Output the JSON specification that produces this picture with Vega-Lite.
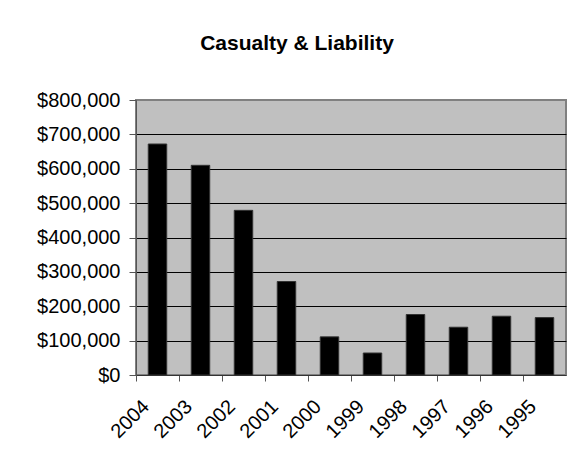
{
  "$schema": "https://vega.github.io/schema/vega-lite/v6.json",
  "width": 430,
  "height": 275,
  "autosize": {"type": "none"},
  "padding": {"left": 136, "top": 100, "right": 17, "bottom": 92},
  "background": "white",
  "title": {
    "text": "Casualty & Liability",
    "font": "Liberation Sans",
    "fontSize": 21,
    "fontWeight": "bold",
    "color": "black",
    "anchor": "middle",
    "dx": -54,
    "offset": 19,
    "baseline": "alphabetic"
  },
  "data": {
    "values": [
      {"year": "2004", "amount": 672000},
      {"year": "2003", "amount": 610000},
      {"year": "2002", "amount": 479000},
      {"year": "2001", "amount": 272000},
      {"year": "2000", "amount": 111000},
      {"year": "1999", "amount": 64000},
      {"year": "1998", "amount": 176000},
      {"year": "1997", "amount": 139000},
      {"year": "1996", "amount": 171000},
      {"year": "1995", "amount": 167000}
    ]
  },
  "mark": {"type": "bar", "color": "black", "stroke": "#333333", "strokeWidth": 1},
  "encoding": {
    "x": {
      "field": "year",
      "type": "ordinal",
      "sort": null,
      "scale": {"paddingInner": 0.57, "paddingOuter": 0.285},
      "axis": {
        "title": null,
        "labelAngle": -45,
        "labelFontSize": 20,
        "labelFont": "Liberation Sans",
        "labelColor": "black",
        "tickOffset": -21.5,
        "tickSize": 6,
        "tickColor": "#555555",
        "domainColor": "#333333",
        "labelPadding": 15,
        "labelOffset": 2.5,
        "grid": false
      }
    },
    "y": {
      "field": "amount",
      "type": "quantitative",
      "scale": {"domain": [0, 800000], "nice": false},
      "axis": {
        "title": null,
        "values": [0, 100000, 200000, 300000, 400000, 500000, 600000, 700000, 800000],
        "format": "$,.0f",
        "labelFontSize": 20,
        "labelFont": "Liberation Sans",
        "labelColor": "black",
        "tickSize": 7,
        "tickColor": "#555555",
        "labelPadding": 9,
        "domainColor": "#555555",
        "gridColor": {"condition": {"test": "datum.value === 800000 || datum.value === 0", "value": "#808080"}, "value": "black"},
        "gridWidth": 1
      }
    }
  },
  "config": {
    "view": {"fill": "#C0C0C0", "stroke": "#808080", "strokeWidth": 2},
    "font": "Liberation Sans"
  }
}
